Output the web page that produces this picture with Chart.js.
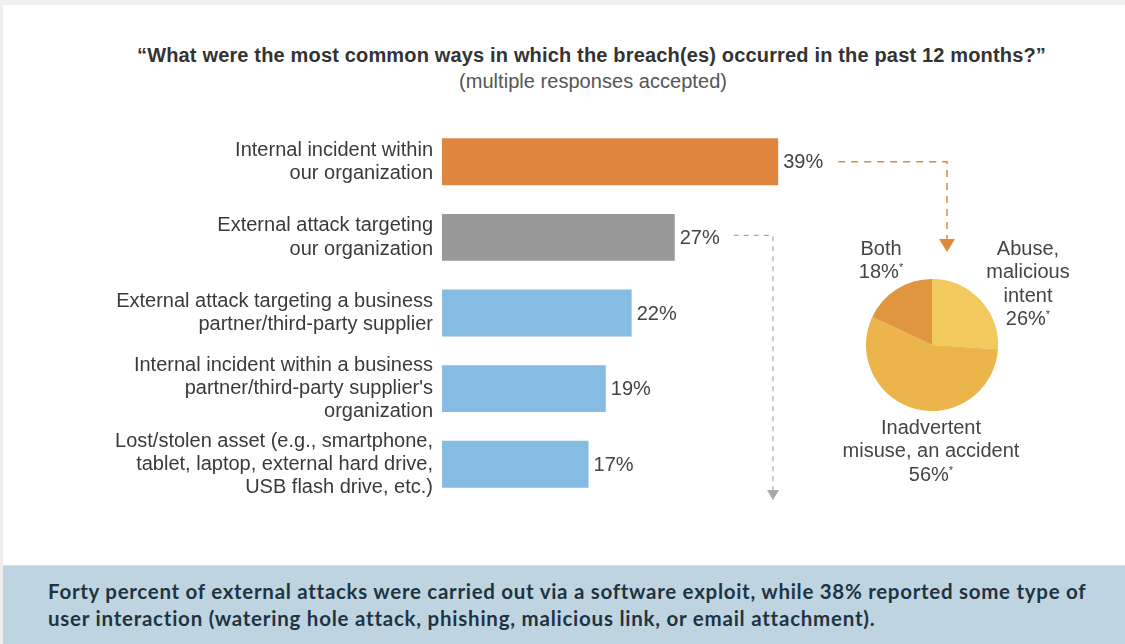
<!DOCTYPE html>
<html>
<head>
<meta charset="utf-8">
<script src="https://cdn.jsdelivr.net/npm/chart.js@4.4.1/dist/chart.umd.min.js"></script>
<style>
  html, body { margin:0; padding:0; }
  body { width:1125px; height:644px; background:#efefef; position:relative; overflow:hidden; font-family:"Liberation Sans", Arial, sans-serif; }
  #panel { position:absolute; left:3px; top:5px; width:1122px; height:639px; background:#ffffff; }
  .fit { position:absolute; white-space:nowrap; display:inline-block; }
  #title { top:44px; font-weight:bold; font-size:20px; color:#333; }
  #subtitle { top:70px; font-size:20px; color:#555; }
  #barWrap { position:absolute; left:0; top:0; width:1125px; height:644px; }
  #pieWrap { position:absolute; left:866px; top:279px; width:132px; height:132px; }
  .plab { position:absolute; text-align:center; font-size:20px; line-height:23.4px; color:#444; white-space:nowrap; transform:translateX(-50%); }
  .ast { font-size:11px; position:relative; top:-7px; }
  #caption { position:absolute; left:3px; top:565px; width:1122px; height:79px; background:#bfd4e1; border-top:1px solid #d6e3ec; }
  .cap { left:48px; font-family:"Lato", sans-serif; font-weight:bold; font-size:20.5px; color:#1f3442; }
</style>
</head>
<body>
<div id="panel"></div>
<span id="title" class="fit">“What were the most common ways in which the breach(es) occurred in the past 12 months?”</span>
<span id="subtitle" class="fit">(multiple responses accepted)</span>
<div id="barWrap"><canvas id="bar"></canvas></div>
<div id="pieWrap"><canvas id="pie"></canvas></div>
<div id="pieLabels"></div>
<div id="caption"></div>
<span id="cap1" class="fit cap" style="top:579px">Forty percent of external attacks were carried out via a software exploit, while 38% reported some type of</span>
<span id="cap2" class="fit cap" style="top:606px">user interaction (watering hole attack, phishing, malicious link, or email attachment).</span>
<script>
// ---- data ----
const categories = [
  ["Internal incident within", "our organization"],
  ["External attack targeting", "our organization"],
  ["External attack targeting a business", "partner/third-party supplier"],
  ["Internal incident within a business", "partner/third-party supplier's", "organization"],
  ["Lost/stolen asset (e.g., smartphone,", "tablet, laptop, external hard drive,", "USB flash drive, etc.)"]
];
const values = [39, 27, 22, 19, 17];
const barColors = ["#df8540", "#999999", "#86bce2", "#86bce2", "#86bce2"];

const pieLabels = [
  ["Abuse,", "malicious", "intent"],
  ["Inadvertent", "misuse, an accident"],
  ["Both"]
];
const pieValues = [26, 56, 18];
const pieColors = ["#f2c95c", "#ebb54b", "#e0953f"];

// ---- text fitting (match reference text widths) ----
function fit(id, left, width) {
  const el = document.getElementById(id);
  const txt = el.textContent;
  const w0 = el.getBoundingClientRect().width;
  const ls = (width - w0) / txt.length;
  el.style.letterSpacing = ls + 'px';
  el.style.left = left + 'px';
}
fit('title', 137, 909);
fit('subtitle', 459, 268);
fit('cap1', 48, 1037);
fit('cap2', 48, 826);

// ---- pie labels ----
const pieLabelPos = [
  {x:1028, y:237},
  {x:931, y:416},
  {x:881, y:237}
];
const plHost = document.getElementById('pieLabels');
pieLabels.forEach((lines, i) => {
  const d = document.createElement('div');
  d.className = 'plab';
  d.style.left = pieLabelPos[i].x + 'px';
  d.style.top = pieLabelPos[i].y + 'px';
  d.innerHTML = lines.join('<br>') + '<br>' + pieValues[i] + '%<span class="ast">*</span>';
  plHost.appendChild(d);
});

// ---- arrows + value labels plugin ----
const annot = {
  id: 'annot',
  afterDatasetsDraw(chart) {
    const ctx = chart.ctx;
    const meta = chart.getDatasetMeta(0);
    ctx.save();
    ctx.font = '20px "Liberation Sans", Arial, sans-serif';
    ctx.fillStyle = '#444';
    ctx.textBaseline = 'middle';
    ctx.textAlign = 'left';
    meta.data.forEach((el, i) => {
      ctx.fillText(values[i] + '%', el.x + 5, el.y + 1);
    });
    // orange arrow
    const b0 = meta.data[0];
    const ax = 947, ay = 239;
    ctx.strokeStyle = '#e0893c';
    ctx.lineWidth = 1.5;
    ctx.setLineDash([7, 6]);
    ctx.beginPath();
    ctx.moveTo(b0.x + 60, b0.y);
    ctx.lineTo(ax, b0.y);
    ctx.lineTo(ax, ay);
    ctx.stroke();
    ctx.setLineDash([]);
    ctx.fillStyle = '#e0893c';
    ctx.beginPath();
    ctx.moveTo(ax - 8, ay);
    ctx.lineTo(ax + 8, ay);
    ctx.lineTo(ax, ay + 13);
    ctx.closePath();
    ctx.fill();
    // gray arrow
    const b1 = meta.data[1];
    const gx = 773, gy = 490;
    ctx.strokeStyle = '#a8a8a8';
    ctx.lineWidth = 1.2;
    ctx.setLineDash([5, 5]);
    ctx.beginPath();
    ctx.moveTo(b1.x + 59, b1.y - 2);
    ctx.lineTo(gx, b1.y - 2);
    ctx.lineTo(gx, gy);
    ctx.stroke();
    ctx.setLineDash([]);
    ctx.fillStyle = '#a8a8a8';
    ctx.beginPath();
    ctx.moveTo(gx - 6, gy);
    ctx.lineTo(gx + 6, gy);
    ctx.lineTo(gx, gy + 10);
    ctx.closePath();
    ctx.fill();
    ctx.restore();
  }
};

new Chart(document.getElementById('bar'), {
  type: 'bar',
  data: {
    labels: categories,
    datasets: [{ data: values, backgroundColor: barColors, borderWidth: 0, barPercentage: 1, categoryPercentage: 0.62 }]
  },
  options: {
    indexAxis: 'y',
    responsive: true,
    maintainAspectRatio: false,
    animation: false,
    layout: { padding: { top: 124, bottom: 142, right: 252, left: 0 } },
    plugins: { legend: { display: false }, tooltip: { enabled: false } },
    scales: {
      x: { display: false, min: 0, max: 50 },
      y: {
        afterFit(scale) { scale.width = 442; },
        grid: { display: false, drawTicks: false },
        border: { display: false },
        ticks: { padding: 9, color: '#3a3a3a', font: { family: '"Liberation Sans", Arial, sans-serif', size: 20, lineHeight: 1.16 } }
      }
    }
  },
  plugins: [annot]
});

new Chart(document.getElementById('pie'), {
  type: 'pie',
  data: {
    labels: pieLabels.map(l => l.join(' ')),
    datasets: [{ data: pieValues, backgroundColor: pieColors, borderWidth: 0, hoverBorderWidth: 0, hoverOffset: 0 }]
  },
  options: {
    responsive: true,
    maintainAspectRatio: false,
    animation: false,
    layout: { padding: 0 },
    plugins: { legend: { display: false }, tooltip: { enabled: false } }
  }
});
</script>
</body>
</html>
